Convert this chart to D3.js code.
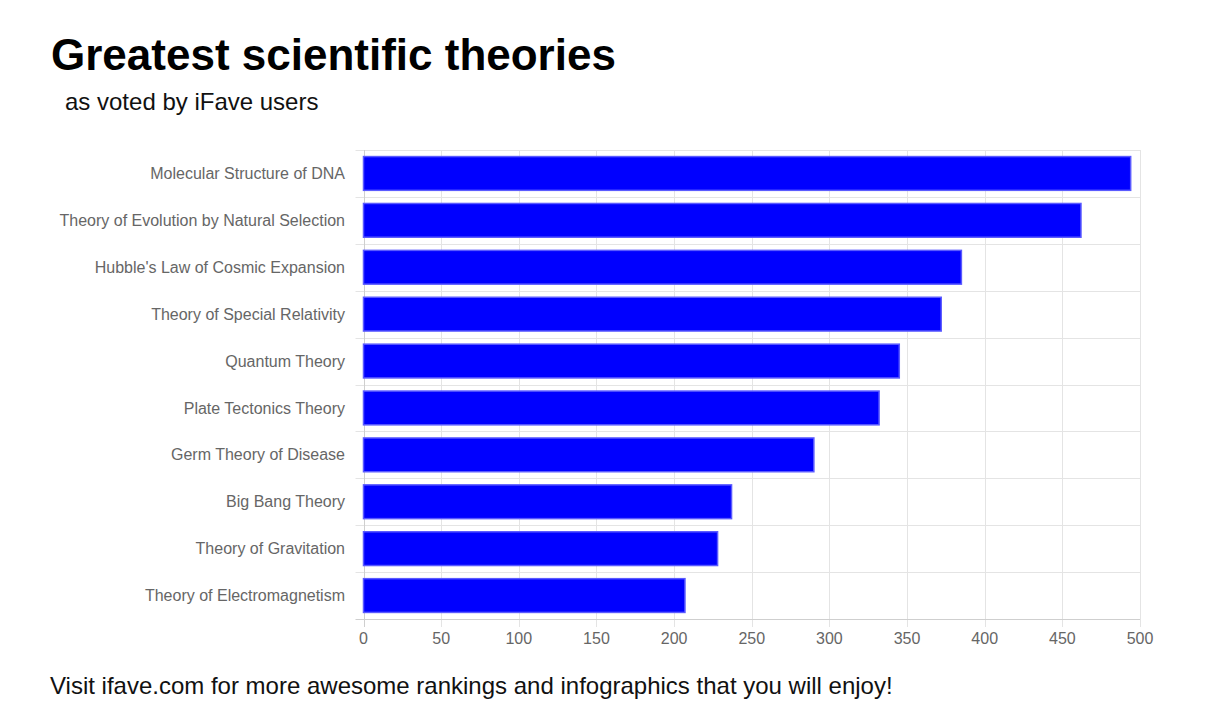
<!DOCTYPE html>
<html>
<head>
<meta charset="utf-8">
<script src="https://cdn.jsdelivr.net/npm/d3@7"></script>
<style>
  html, body { margin: 0; padding: 0; background: #fff; }
  svg { display: block; font-family: "Liberation Sans", Arial, sans-serif; }
</style>
</head>
<body>
<svg id="chart" width="1206" height="703"></svg>
<script>
const categories = [
  "Molecular Structure of DNA",
  "Theory of Evolution by Natural Selection",
  "Hubble's Law of Cosmic Expansion",
  "Theory of Special Relativity",
  "Quantum Theory",
  "Plate Tectonics Theory",
  "Germ Theory of Disease",
  "Big Bang Theory",
  "Theory of Gravitation",
  "Theory of Electromagnetism"
];
const values = [494, 462, 385, 372, 345, 332, 290, 237, 228, 207];
const xTicks = [0, 50, 100, 150, 200, 250, 300, 350, 400, 450, 500];

(function () {
const svg = d3.select("#chart");
const pLeft = 363.5, pRight = 1140, pTop = 150, pBottom = 619;

const x = d3.scaleLinear().domain([0, 500]).range([pLeft, pRight]);
const y = d3.scaleBand().domain(categories).range([pTop, pBottom]);
const inner = 0.72;

// Title
svg.append("text").attr("x", 51).attr("y", 70)
  .attr("font-size", 44).attr("font-weight", "bold").attr("fill", "#000")
  .text("Greatest scientific theories");
svg.append("text").attr("x", 65).attr("y", 110)
  .attr("font-size", 24).attr("fill", "#111")
  .text("as voted by iFave users");

// Vertical grid
const g = svg.append("g");
g.selectAll("line.vgrid").data(xTicks).enter().append("line")
  .attr("x1", d => Math.round(x(d)) + 0.5).attr("x2", d => Math.round(x(d)) + 0.5)
  .attr("y1", pTop).attr("y2", pBottom + 8)
  .attr("stroke", "#e4e4e4").attr("stroke-width", 1);

// Horizontal grid (category boundaries)
const bounds = categories.map(c => y(c)).concat([pBottom]);
g.selectAll("line.hgrid").data(bounds).enter().append("line")
  .attr("x1", pLeft - 8).attr("x2", pRight)
  .attr("y1", d => Math.round(d) + 0.5).attr("y2", d => Math.round(d) + 0.5)
  .attr("stroke", (d, i) => i === bounds.length - 1 ? "#cfcfcf" : "#e4e4e4")
  .attr("stroke-width", 1);

// left axis line
g.append("line").attr("x1", Math.round(pLeft) + 0.5).attr("x2", Math.round(pLeft) + 0.5)
  .attr("y1", pTop).attr("y2", pBottom + 8).attr("stroke", "#cfcfcf");

// Bars
const bw = y.bandwidth() * inner;
svg.append("g").selectAll("rect").data(values).enter().append("rect")
  .attr("x", x(0))
  .attr("y", (d, i) => y(categories[i]) + (y.bandwidth() - bw) / 2)
  .attr("width", d => x(d) - x(0))
  .attr("height", bw)
  .attr("fill", "#0000ff")
  .attr("stroke", "#5a5aff")
  .attr("stroke-width", 1.5);

// Category labels
svg.append("g").selectAll("text").data(categories).enter().append("text")
  .attr("x", 345)
  .attr("y", d => y(d) + y.bandwidth() / 2)
  .attr("dy", "0.35em")
  .attr("text-anchor", "end")
  .attr("font-size", 16)
  .attr("fill", "#666")
  .text(d => d);

// X tick labels
svg.append("g").selectAll("text").data(xTicks).enter().append("text")
  .attr("x", d => x(d))
  .attr("y", 644)
  .attr("text-anchor", "middle")
  .attr("font-size", 16)
  .attr("fill", "#666")
  .text(d => d);

// Footer
svg.append("text").attr("x", 50).attr("y", 694)
  .attr("font-size", 24).attr("fill", "#111")
  .text("Visit ifave.com for more awesome rankings and infographics that you will enjoy!");
})();
</script>
</body>
</html>
